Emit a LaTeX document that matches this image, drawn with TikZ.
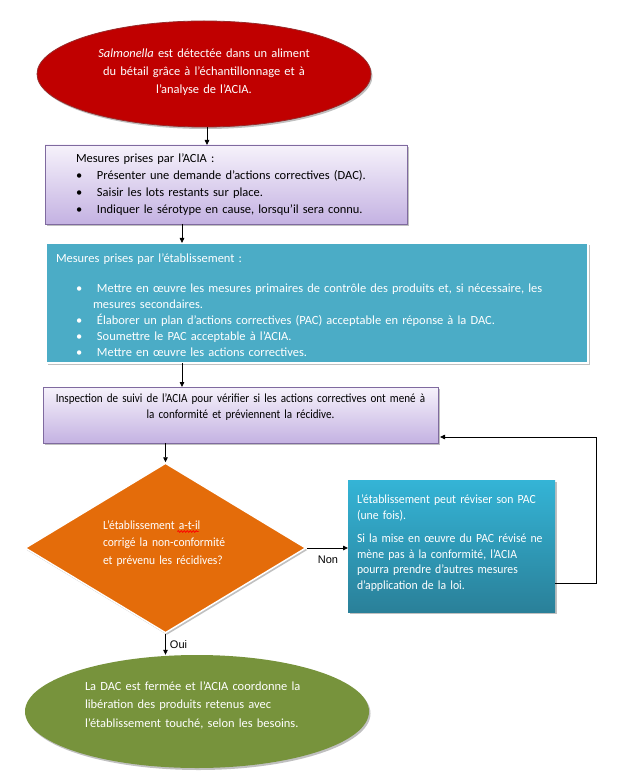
\documentclass[tikz,border=0pt]{standalone}
\usepackage{fontspec}
\setmainfont{Carlito}
\newfontfamily\arialf{Liberation Sans}
\newfontfamily\condA{Carlito}[FakeStretch=0.89]
\newfontfamily\condB{Carlito}[FakeStretch=0.94]
\newfontfamily\condC{Carlito}[FakeStretch=0.925]
\usetikzlibrary{shapes.geometric,arrows.meta,shadows,calc,decorations.pathmorphing}
\definecolor{redfill}{HTML}{C00000}
\definecolor{redline}{HTML}{962B2B}
\definecolor{lavtop}{HTML}{F6F2FB}
\definecolor{lavbot}{HTML}{C4B2E2}
\definecolor{lavline}{HTML}{7F6A9F}
\definecolor{tealfill}{HTML}{4BACC6}
\definecolor{tealtop}{HTML}{34B4D6}
\definecolor{tealbot}{HTML}{2A8099}
\definecolor{orangefill}{HTML}{E46C0A}
\definecolor{greenfill}{HTML}{77933C}
\newlength\sqa
\newlength\sqb
\newcommand\bul{\makebox[21pt][l]{\textbullet}}
\newcommand\dfontcmd{\condC\fontsize{12.45}{17.5}\selectfont}
\begin{document}
\settowidth\sqa{\dfontcmd L’établissement\ }%
\settowidth\sqb{\dfontcmd a-t-il}%
\begin{tikzpicture}[x=1pt,y=-1pt,
  shad/.style={drop shadow={shadow xshift=1.5pt,shadow yshift=-2pt,opacity=0.35,fill=black!70}},
  lavbox/.style={rectangle,draw=lavline,line width=0.8pt,top color=lavtop,bottom color=lavbot,
    shad,inner sep=0,outer sep=0,anchor=north west},
  tealbox/.style={rectangle,fill=tealfill,draw=white,line width=1.5pt,shad,inner sep=0,outer sep=0,anchor=north west},
  txt/.style={inner sep=0,outer sep=0,anchor=base west,align=left},
  arr/.style={-{Triangle[length=5pt,width=4.5pt]},line width=0.8pt,black},
  lbl/.style={font=\arialf\fontsize{11}{13}\selectfont,inner sep=0}]
\fill[white] (0,0) rectangle (623,775);
\useasboundingbox (0,0) rectangle (623,775);

% shapes
\node[ellipse,fill=redfill,draw=redline,line width=0.8pt,minimum width=334,minimum height=106,inner sep=0,shad] (e1) at (204,74) {};
\node[lavbox,minimum width=362,minimum height=79] (b1) at (45,145) {};
\node[tealbox,minimum width=542,minimum height=120] (b2) at (46,243) {};
\node[lavbox,minimum width=395,minimum height=56] (b3) at (43,387) {};
\node[diamond,fill=orangefill,draw=white,line width=1.5pt,minimum width=281,minimum height=170,inner sep=0,shad] (d) at (165.5,548) {};
\node[rectangle,top color=tealtop,bottom color=tealbot,minimum width=207,minimum height=132,inner sep=0,outer sep=0,anchor=north west,shad] (b4) at (348,480) {};
\node[ellipse,fill=greenfill,minimum width=344,minimum height=113,inner sep=0,shad] (g) at (197,711.5) {};

% texts
\node[txt,anchor=base,align=center,text width=320,white,font=\fontsize{12.45}{18}\selectfont] (te1) at (204,57.5)
  {\textit{Salmonella} est détectée dans un aliment\\du bétail grâce à l’échantillonnage et à\\l’analyse de l’ACIA.};
\node[txt,text width=320,font=\fontsize{12.45}{17}\selectfont] (tb1) at (76,163) {Mesures prises par l’ACIA :};
\node[txt,text width=325,font=\fontsize{12.45}{17}\selectfont] (lb1) at (76,180)
  {\bul Présenter une demande d’actions correctives (DAC).\\\bul Saisir les lots restants sur place.\\\bul Indiquer le sérotype en cause, lorsqu’il sera connu.};
\node[txt,text width=500,white,font=\fontsize{12.45}{16}\selectfont] (tb2) at (56,262.5) {Mesures prises par l’établissement :};
\node[txt,text width=505,white,font=\fontsize{12.45}{16}\selectfont] (lb2) at (76,292)
  {\bul Mettre en œuvre les mesures primaires de contrôle des produits et, si nécessaire, les\\
   \hspace*{17pt}mesures secondaires.\\
   \bul Élaborer un plan d’actions correctives (PAC) acceptable en réponse à la DAC.\\
   \bul Soumettre le PAC acceptable à l’ACIA.\\
   \bul Mettre en œuvre les actions correctives.};
\node[txt,anchor=base,align=center,text width=392,font=\condA\fontsize{12.45}{16}\selectfont] (tb3) at (240.5,402)
  {Inspection de suivi de l’ACIA pour vérifier si les actions correctives ont mené à\\la conformité et préviennent la récidive.};
\node[txt,text width=160,white,font=\dfontcmd] (dt) at (103,529)
  {L’établissement a-t-il\\corrigé la non-conformité\\et prévenu les récidives?};
\node[txt,text width=205,white,font=\condB\fontsize{12.45}{15.6}\selectfont] (tb4) at (357,503.5)
  {L’établissement peut réviser son PAC\\(une fois).\\[8pt]Si la mise en œuvre du PAC révisé ne\\mène pas à la conformité, l’ACIA\\pourra prendre d’autres mesures\\d’application de la loi.};
\node[txt,text width=240,white,font=\fontsize{12.45}{18.5}\selectfont] (tg) at (85,690)
  {La DAC est fermée et l’ACIA coordonne la\\libération des produits retenus avec\\l’établissement touché, selon les besoins.};

% spell-check squiggle
\draw[red,line width=0.8pt,decorate,decoration={snake,amplitude=0.8pt,segment length=3pt}]
  ($(dt.base west)+(\sqa,-2.5pt)$) -- ++(\sqb,0pt);

% connectors
\coordinate (c1) at (207,0);
\coordinate (c2) at (182,0);
\coordinate (lp2) at (0,583);
\coordinate (lp) at (596,437);
\draw[arr] (e1.south -| c1) -- (b1.north -| c1);
\draw[arr] (b1.south -| c2) -- (b2.north -| c2);
\draw[arr] (b2.south -| c2) -- (b3.north -| c2);
\draw[arr] (b3.south -| d.north) -- (d.north);
\draw[arr] (d.east) -- (d.east -| b4.west);
\draw[arr,shorten >=2pt] (b4.east |- lp2) -| (lp) -- (lp -| b3.east);
\draw[arr] (d.south) -- (d.south |- g.north);
\node[lbl] (non) at (328,560) {Non};
\node[lbl] (oui) at (178.5,645) {Oui};
\end{tikzpicture}
\end{document}
